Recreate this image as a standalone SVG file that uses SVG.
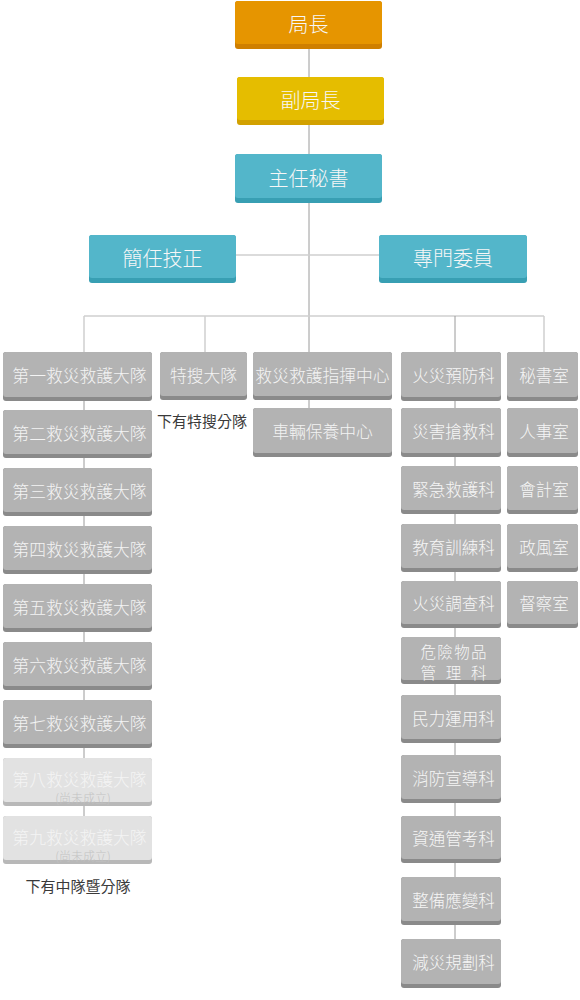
<svg xmlns="http://www.w3.org/2000/svg" width="580" height="1000" viewBox="0 0 580 1000">
<style>
text{font-family:"Noto Sans CJK TC","Noto Sans CJK SC",sans-serif;text-anchor:middle;dominant-baseline:central}
.t1{font-size:20px;fill:#f7f7f7;font-weight:300}
.t2{font-size:16.8px;fill:#f4f4f4;font-weight:300}
.t3{font-size:16.5px;fill:#f6f6f6;font-weight:300}
.t4{font-size:15.5px;fill:#f6f6f6;font-weight:300}
.sub{font-size:12px;fill:#c2c2c2;font-weight:300}
.note{font-size:15px;fill:#3a3a3a}
.or{fill:#e69500}.or-d{fill:#cf7f00}
.ye{fill:#e5bd00}.ye-d{fill:#d2a100}
.te{fill:#53b6ca}.te-d{fill:#389fb3}
.gr{fill:#b3b3b3}.gr-d{fill:#8a8a8a}
.fa{fill:#e2e2e2}.fa-d{fill:#b8b8b8}
.ln-d{stroke:#9a9a9a;stroke-width:1;fill:none}
.ln-l{stroke:#cfcfcf;stroke-width:1.5;fill:none}
</style>
<g id="connectors">
<line class="ln-d" x1="309" y1="45" x2="309" y2="352"/>
<line class="ln-d" x1="309" y1="398" x2="309" y2="410"/>
<line class="ln-l" x1="236" y1="255" x2="379" y2="255"/>
<line class="ln-l" x1="84" y1="316" x2="544" y2="316"/>
<line class="ln-l" x1="84" y1="316" x2="84" y2="352"/>
<line class="ln-l" x1="205" y1="316" x2="205" y2="352"/>
<line class="ln-d" x1="455" y1="316" x2="455" y2="352"/>
<line class="ln-l" x1="544" y1="316" x2="544" y2="352"/>
<line class="ln-d" x1="84" y1="352" x2="84" y2="820"/>
<line class="ln-d" x1="455" y1="352" x2="455" y2="942"/>
</g>

<g id="n-chief"><rect class="or-d" x="235" y="1" width="147" height="48" rx="3"/><rect class="or" x="235" y="1" width="147" height="43" rx="3"/><text class="t1" x="308.5" y="23">局長</text></g>
<g id="n-deputy"><rect class="ye-d" x="237" y="77" width="147" height="48" rx="3"/><rect class="ye" x="237" y="77" width="147" height="43" rx="3"/><text class="t1" x="310.5" y="99">副局長</text></g>
<g id="n-secretary-general"><rect class="te-d" x="235" y="154" width="147" height="49" rx="3"/><rect class="te" x="235" y="154" width="147" height="44" rx="3"/><text class="t1" x="308.5" y="177">主任秘書</text></g>
<g id="n-senior-engineer"><rect class="te-d" x="89" y="235" width="147" height="48" rx="3"/><rect class="te" x="89" y="235" width="147" height="43" rx="3"/><text class="t1" x="162.5" y="257">簡任技正</text></g>
<g id="n-commissioner"><rect class="te-d" x="379" y="235" width="148" height="48" rx="3"/><rect class="te" x="379" y="235" width="148" height="43" rx="3"/><text class="t1" x="453" y="257">專門委員</text></g>

<g id="n-brigade1"><rect class="gr-d" x="3" y="352" width="149" height="49" rx="3"/><rect class="gr" x="3" y="352" width="149" height="45" rx="3"/><text class="t2" x="79.5" y="375">第一救災救護大隊</text></g>
<g id="n-brigade2"><rect class="gr-d" x="3" y="410" width="149" height="48" rx="3"/><rect class="gr" x="3" y="410" width="149" height="44" rx="3"/><text class="t2" x="79.5" y="433">第二救災救護大隊</text></g>
<g id="n-brigade3"><rect class="gr-d" x="3" y="468" width="149" height="48" rx="3"/><rect class="gr" x="3" y="468" width="149" height="44" rx="3"/><text class="t2" x="79.5" y="491">第三救災救護大隊</text></g>
<g id="n-brigade4"><rect class="gr-d" x="3" y="526" width="149" height="48" rx="3"/><rect class="gr" x="3" y="526" width="149" height="44" rx="3"/><text class="t2" x="79.5" y="549">第四救災救護大隊</text></g>
<g id="n-brigade5"><rect class="gr-d" x="3" y="584" width="149" height="48" rx="3"/><rect class="gr" x="3" y="584" width="149" height="44" rx="3"/><text class="t2" x="79.5" y="607">第五救災救護大隊</text></g>
<g id="n-brigade6"><rect class="gr-d" x="3" y="642" width="149" height="48" rx="3"/><rect class="gr" x="3" y="642" width="149" height="44" rx="3"/><text class="t2" x="79.5" y="665">第六救災救護大隊</text></g>
<g id="n-brigade7"><rect class="gr-d" x="3" y="700" width="149" height="48" rx="3"/><rect class="gr" x="3" y="700" width="149" height="44" rx="3"/><text class="t2" x="79.5" y="723">第七救災救護大隊</text></g>
<g id="n-brigade8"><rect class="fa-d" x="3" y="758" width="149" height="48" rx="3"/><rect class="fa" x="3" y="758" width="149" height="44" rx="3"/><text class="t2" x="79.5" y="778.5">第八救災救護大隊</text><text class="sub" x="83" y="797.5">(尚未成立)</text></g>
<g id="n-brigade9"><rect class="fa-d" x="3" y="816" width="149" height="48" rx="3"/><rect class="fa" x="3" y="816" width="149" height="44" rx="3"/><text class="t2" x="79.5" y="836.5">第九救災救護大隊</text><text class="sub" x="83" y="855.5">(尚未成立)</text></g>
<g id="note-brigades"><text class="note" x="78" y="885">下有中隊暨分隊</text></g>

<g id="n-special-search"><rect class="gr-d" x="160" y="352" width="87" height="48" rx="3"/><rect class="gr" x="160" y="352" width="87" height="44" rx="3"/><text class="t2" x="203.5" y="375">特搜大隊</text></g>
<g id="note-special"><text class="note" x="202" y="420">下有特搜分隊</text></g>
<g id="n-command-center"><rect class="gr-d" x="253" y="352" width="139" height="48" rx="3"/><rect class="gr" x="253" y="352" width="139" height="44" rx="3"/><text class="t2" x="322.5" y="375">救災救護指揮中心</text></g>
<g id="n-vehicle"><rect class="gr-d" x="253" y="408" width="139" height="49" rx="3"/><rect class="gr" x="253" y="408" width="139" height="45" rx="3"/><text class="t2" x="322.5" y="431">車輛保養中心</text></g>

<g id="n-fire-prevention"><rect class="gr-d" x="401" y="352" width="100" height="49" rx="3"/><rect class="gr" x="401" y="352" width="100" height="45" rx="3"/><text class="t3" x="453.5" y="375">火災預防科</text></g>
<g id="n-rescue"><rect class="gr-d" x="401" y="408" width="100" height="49" rx="3"/><rect class="gr" x="401" y="408" width="100" height="45" rx="3"/><text class="t3" x="453.5" y="431">災害搶救科</text></g>
<g id="n-emergency"><rect class="gr-d" x="401" y="466" width="100" height="48" rx="3"/><rect class="gr" x="401" y="466" width="100" height="44" rx="3"/><text class="t3" x="453.5" y="489">緊急救護科</text></g>
<g id="n-training"><rect class="gr-d" x="401" y="524" width="100" height="48" rx="3"/><rect class="gr" x="401" y="524" width="100" height="44" rx="3"/><text class="t3" x="453.5" y="547">教育訓練科</text></g>
<g id="n-investigation"><rect class="gr-d" x="401" y="581" width="100" height="47" rx="3"/><rect class="gr" x="401" y="581" width="100" height="43" rx="3"/><text class="t3" x="453.5" y="603">火災調查科</text></g>
<g id="n-hazmat"><rect class="gr-d" x="401" y="637" width="100" height="47" rx="3"/><rect class="gr" x="401" y="637" width="100" height="43" rx="3"/><text class="t4" x="453.5" y="650.5" textLength="66" lengthAdjust="spacing">危險物品</text><text class="t4" x="453.5" y="672" textLength="66" lengthAdjust="spacing">管 理 科</text></g>
<g id="n-civil"><rect class="gr-d" x="401" y="695" width="100" height="48" rx="3"/><rect class="gr" x="401" y="695" width="100" height="44" rx="3"/><text class="t3" x="453.5" y="718">民力運用科</text></g>
<g id="n-promotion"><rect class="gr-d" x="401" y="755" width="100" height="48" rx="3"/><rect class="gr" x="401" y="755" width="100" height="44" rx="3"/><text class="t3" x="453.5" y="778">消防宣導科</text></g>
<g id="n-it"><rect class="gr-d" x="401" y="816" width="100" height="47" rx="3"/><rect class="gr" x="401" y="816" width="100" height="43" rx="3"/><text class="t3" x="453.5" y="838">資通管考科</text></g>
<g id="n-readiness"><rect class="gr-d" x="401" y="877" width="100" height="48" rx="3"/><rect class="gr" x="401" y="877" width="100" height="44" rx="3"/><text class="t3" x="453.5" y="900">整備應變科</text></g>
<g id="n-mitigation"><rect class="gr-d" x="401" y="939" width="100" height="49" rx="3"/><rect class="gr" x="401" y="939" width="100" height="45" rx="3"/><text class="t3" x="453.5" y="962">減災規劃科</text></g>

<g id="n-secretariat"><rect class="gr-d" x="507" y="352" width="71" height="49" rx="3"/><rect class="gr" x="507" y="352" width="71" height="45" rx="3"/><text class="t3" x="544" y="375">秘書室</text></g>
<g id="n-personnel"><rect class="gr-d" x="507" y="408" width="71" height="49" rx="3"/><rect class="gr" x="507" y="408" width="71" height="45" rx="3"/><text class="t3" x="544" y="431">人事室</text></g>
<g id="n-accounting"><rect class="gr-d" x="507" y="466" width="71" height="48" rx="3"/><rect class="gr" x="507" y="466" width="71" height="44" rx="3"/><text class="t3" x="544" y="489">會計室</text></g>
<g id="n-ethics"><rect class="gr-d" x="507" y="524" width="71" height="48" rx="3"/><rect class="gr" x="507" y="524" width="71" height="44" rx="3"/><text class="t3" x="544" y="547">政風室</text></g>
<g id="n-inspection"><rect class="gr-d" x="507" y="581" width="71" height="47" rx="3"/><rect class="gr" x="507" y="581" width="71" height="43" rx="3"/><text class="t3" x="544" y="603">督察室</text></g>
</svg>
